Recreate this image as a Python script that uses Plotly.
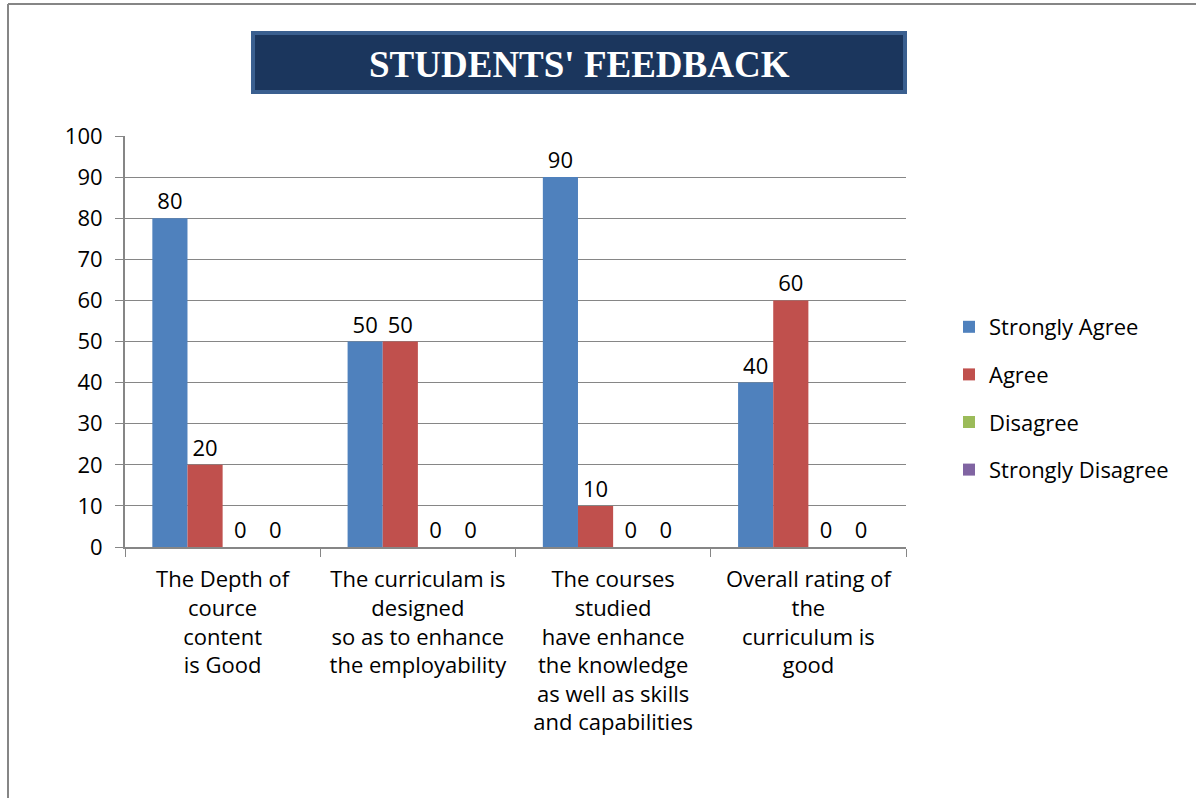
import plotly.graph_objects as go

# Chart data
categories = ['The Depth of<br>cource<br>content<br>is Good',
              'The curriculam is<br>designed<br>so as to enhance<br>the employability',
              'The courses<br>studied<br>have enhance<br>the knowledge<br>as well as skills<br>and capabilities',
              'Overall rating of<br>the<br>curriculum is<br>good']
strongly_agree = [80, 50, 90, 40]
agree = [20, 50, 10, 60]
disagree = [0, 0, 0, 0]
strongly_disagree = [0, 0, 0, 0]

series_names = ['Strongly Agree', 'Agree', 'Disagree', 'Strongly Disagree']
series_values = [strongly_agree, agree, disagree, strongly_disagree]
series_colors = ['#4F81BD', '#C0504D', '#9BBB59', '#8064A2']

W, H = 1196, 798
L, R, T, B = 125, 906, 136, 547   # plot area in pixels
pw, ph = R - L, B - T

def px_x(x):
    return (x - L) / pw

def px_y(y):
    return (B - y) / ph

fig = go.Figure()
for name, vals, col in zip(series_names, series_values, series_colors):
    fig.add_trace(go.Bar(x = categories,
                         y = vals,
                         name = name,
                         legendgroup = name,
                         marker_color = col,
                         marker_line_width = 0,
                         text = vals,
                         textposition = 'outside',
                         cliponaxis = False,
                         textfont = dict(size = 22, color = 'black')))

# Outer border lines (left + top)
shapes = [dict(type = 'line', xref = 'paper', yref = 'paper',
               x0 = px_x(8), x1 = px_x(8), y0 = px_y(4), y1 = px_y(820),
               line = dict(color = '#868686', width = 2)),
          dict(type = 'line', xref = 'paper', yref = 'paper',
               x0 = px_x(8), x1 = px_x(1220), y0 = px_y(4), y1 = px_y(4),
               line = dict(color = '#868686', width = 2)),
          # Title box
          dict(type = 'rect', xref = 'paper', yref = 'paper',
               x0 = px_x(253), x1 = px_x(905), y0 = px_y(92), y1 = px_y(33),
               fillcolor = '#1B365D', line = dict(color = '#3A5F8F', width = 4))]

fig.update_layout(width = W, height = H,
                  margin = dict(l = L, r = W - R, t = T, b = H - B),
                  paper_bgcolor = 'white',
                  plot_bgcolor = 'white',
                  barmode = 'group',
                  bargap = 0.28,
                  bargroupgap = 0,
                  font = dict(family = 'Open Sans, Noto Sans, sans-serif', size = 22, color = 'black'),
                  showlegend = True,
                  legend = dict(x = px_x(949), y = px_y(306), xanchor = 'left', yanchor = 'top',
                                tracegroupgap = 16, font = dict(size = 22),
                                itemwidth = 30),
                  shapes = shapes,
                  annotations = [dict(text = "<b>STUDENTS' FEEDBACK</b>", xref = 'paper', yref = 'paper',
                                      x = px_x(579), y = px_y(64), showarrow = False,
                                      xanchor = 'center', yanchor = 'middle',
                                      font = dict(family = 'Liberation Serif, Times New Roman, serif',
                                                  size = 37, color = 'white'))])

fig.update_yaxes(range = [0, 100], dtick = 10,
                 showgrid = True, gridcolor = '#868686', gridwidth = 1,
                 showline = True, linecolor = '#868686', linewidth = 2,
                 ticks = 'outside', ticklen = 8, tickcolor = '#868686',
                 ticklabelstandoff = 8,
                 tickfont = dict(size = 22), zeroline = False)

fig.update_xaxes(showline = True, linecolor = '#868686', linewidth = 2,
                 ticks = 'outside', ticklen = 8, tickcolor = '#868686',
                 tickson = 'boundaries', ticklabelstandoff = 12,
                 tickfont = dict(size = 22))

# drop the default page margin so the figure fills the window
fig.write_html("out.html",
               config = {'displayModeBar': False},
               post_script = "document.body.style.margin = '0px'; document.body.style.overflow = 'hidden';")
